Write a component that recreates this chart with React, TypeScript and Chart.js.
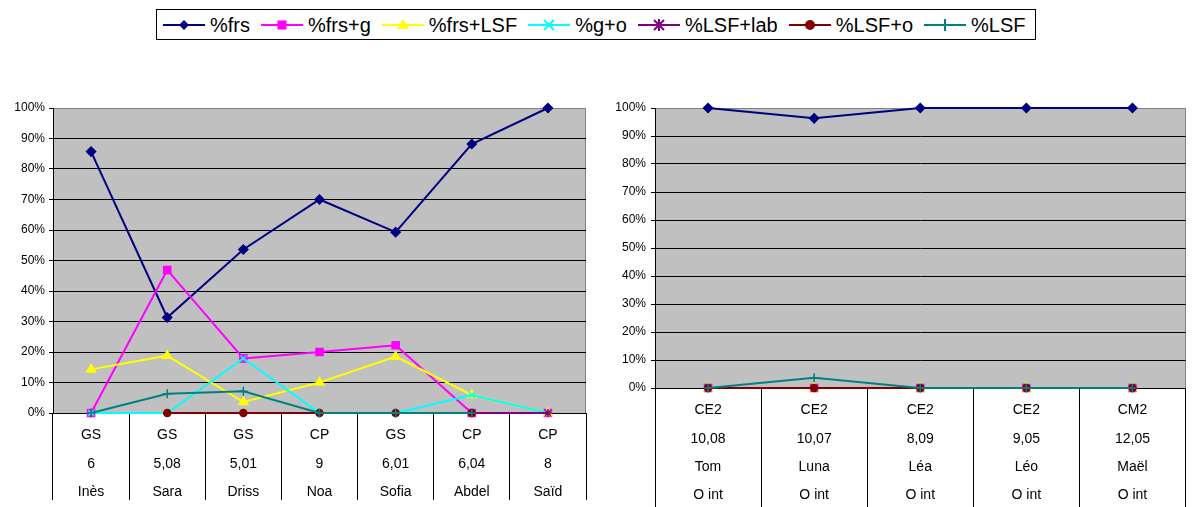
import React, { useEffect, useRef } from 'react';
import { Chart, registerables } from 'chart.js';

Chart.register(...registerables);

const FONT = '"Liberation Sans", Arial, Helvetica, sans-serif';

// Series definitions
const seriesNames = ['%frs', '%frs+g', '%frs+LSF', '%g+o', '%LSF+lab', '%LSF+o', '%LSF'];
const seriesColors = ['#000080', '#FF00FF', '#FFFF00', '#00FFFF', '#800080', '#800000', '#008080'];
const seriesMarkers = ['rectRot', 'rect', 'triangle', 'crossRot', 'star', 'circle', 'cross'];
const seriesRadius = [4.5, 5, 5, 4, 4, 3.5, 4.5];

// Left chart categories
const leftLevels = ['GS', 'GS', 'GS', 'CP', 'GS', 'CP', 'CP'];
const leftAges = ['6', '5,08', '5,01', '9', '6,01', '6,04', '8'];
const leftNames = ['Inès', 'Sara', 'Driss', 'Noa', 'Sofia', 'Abdel', 'Saïd'];

// Left chart values (%)
const leftFrs = [85.7, 31.3, 53.6, 70, 59.3, 88.2, 100];
const leftFrsG = [0, 46.9, 17.9, 20, 22.2, 0, 0];
const leftFrsLSF = [14.3, 18.8, 3.6, 10, 18.5, 5.9, 0];
const leftGO = [0, 0, 17.9, 0, 0, 5.9, 0];
const leftLSFLab = [null, null, null, null, null, 0, 0];
const leftLSFO = [null, 0, 0, 0, 0, 0, null];
const leftLSF = [0, 6.3, 7.1, 0, 0, 0, null];

// Right chart categories
const rightLevels = ['CE2', 'CE2', 'CE2', 'CE2', 'CM2'];
const rightAges = ['10,08', '10,07', '8,09', '9,05', '12,05'];
const rightNames = ['Tom', 'Luna', 'Léa', 'Léo', 'Maël'];
const rightGroups = ['O int', 'O int', 'O int', 'O int', 'O int'];

// Right chart values (%)
const rightFrs = [100, 96.3, 100, 100, 100];
const rightFrsG = [0, 0, 0, 0, 0];
const rightFrsLSF = [0, 0, 0, 0, 0];
const rightGO = [0, 0, 0, 0, 0];
const rightLSFLab = [0, 0, 0, 0, 0];
const rightLSFO = [0, 0, 0, 0, 0];
const rightLSF = [0, 3.7, 0, 0, 0];

// Y axis ticks
const yTickStep = 10;
const yMax = 100;

const plotBg = {
  id: 'plotBg',
  beforeDraw(chart: any) {
    const { ctx, chartArea: a } = chart;
    ctx.save();
    ctx.fillStyle = '#C0C0C0';
    ctx.fillRect(a.left, a.top, a.right - a.left, a.bottom - a.top);
    ctx.strokeStyle = '#808080';
    ctx.lineWidth = 1;
    ctx.beginPath();
    const x = Math.round(a.right) - 0.5;
    ctx.moveTo(x, a.top);
    ctx.lineTo(x, a.bottom);
    ctx.stroke();
    ctx.restore();
  },
};

type Cfg = {
  labels: string[][];
  values: (number | null)[][];
  width: number;
  height: number;
  padRight: number;
  yWidth: number;
  xHeight: number;
  tickLen: number;
  labelPad: number;
  lineH: number;
  yPad: number;
};

function LineChart(props: Cfg) {
  const ref = useRef<HTMLCanvasElement | null>(null);
  useEffect(() => {
    if (!ref.current) return;
    const n = seriesNames.length;
    const chart = new Chart(ref.current, {
      type: 'line',
      data: {
        labels: props.labels,
        datasets: seriesNames.map((name, i) => ({
          label: name,
          data: props.values[i],
          borderColor: seriesColors[i],
          backgroundColor: seriesColors[i],
          borderWidth: 2,
          pointStyle: seriesMarkers[i] as any,
          pointRadius: seriesRadius[i],
          pointBorderWidth: 1.5,
          pointBorderColor: seriesColors[i],
          pointBackgroundColor: seriesColors[i],
          tension: 0,
          spanGaps: false,
          clip: false as any,
          order: n - 1 - i,
        })),
      },
      options: {
        responsive: false,
        animation: false,
        devicePixelRatio: 1,
        layout: { padding: { left: 0, top: 63, right: props.padRight, bottom: 0 } },
        plugins: { legend: { display: false }, tooltip: { enabled: false } },
        scales: {
          x: {
            type: 'category',
            offset: true,
            grid: {
              offset: true,
              drawOnChartArea: false,
              drawTicks: true,
              tickLength: props.tickLen,
              color: '#000',
              tickColor: '#000',
              lineWidth: 1,
            },
            border: { display: true, color: '#000', width: 1 },
            ticks: {
              autoSkip: false,
              maxRotation: 0,
              minRotation: 0,
              padding: props.labelPad,
              color: '#000',
              font: { family: FONT, size: 14, lineHeight: props.lineH + 'px' },
            },
            afterFit: (s: any) => {
              s.height = props.xHeight;
            },
          },
          y: {
            min: 0,
            max: yMax,
            ticks: {
              stepSize: yTickStep,
              padding: props.yPad,
              color: '#000',
              font: { family: FONT, size: 12 },
              callback: (v: any) => v + '%',
            },
            grid: {
              color: (c: any) => (c.tick && c.tick.value === yMax ? '#808080' : '#000'),
              tickColor: '#000',
              tickLength: 4,
              lineWidth: 1,
            },
            border: { color: '#000', width: 1 },
            afterFit: (s: any) => {
              s.width = props.yWidth;
            },
          },
        },
      } as any,
      plugins: [plotBg],
    });
    return () => chart.destroy();
  }, []);
  return <canvas ref={ref} width={props.width} height={props.height} style={{ display: 'block', width: props.width, height: props.height }} />;
}

function Marker({ type, color }: { type: string; color: string }) {
  const cx = 21;
  const cy = 8;
  let shape: any = null;
  if (type === 'rectRot') shape = <polygon points={`${cx},${cy - 5} ${cx + 5},${cy} ${cx},${cy + 5} ${cx - 5},${cy}`} fill={color} />;
  else if (type === 'rect') shape = <rect x={cx - 4.5} y={cy - 4.5} width={9} height={9} fill={color} />;
  else if (type === 'triangle') shape = <polygon points={`${cx},${cy - 6} ${cx + 6},${cy + 4} ${cx - 6},${cy + 4}`} fill={color} />;
  else if (type === 'crossRot')
    shape = <path d={`M${cx - 5} ${cy - 5}L${cx + 5} ${cy + 5}M${cx + 5} ${cy - 5}L${cx - 5} ${cy + 5}`} stroke={color} strokeWidth={2} />;
  else if (type === 'star')
    shape = (
      <path
        d={`M${cx - 5} ${cy - 5}L${cx + 5} ${cy + 5}M${cx + 5} ${cy - 5}L${cx - 5} ${cy + 5}M${cx} ${cy - 6}L${cx} ${cy + 6}`}
        stroke={color}
        strokeWidth={2}
      />
    );
  else if (type === 'circle') shape = <circle cx={cx} cy={cy} r={5} fill={color} />;
  else if (type === 'cross') shape = <path d={`M${cx - 6} ${cy}L${cx + 6} ${cy}M${cx} ${cy - 6}L${cx} ${cy + 6}`} stroke={color} strokeWidth={2} />;
  return (
    <svg width={42} height={16} style={{ display: 'block', marginRight: 5 }}>
      <line x1={0} y1={cy} x2={42} y2={cy} stroke={color} strokeWidth={2} />
      {shape}
    </svg>
  );
}

export default function App() {
  const leftLabels = leftLevels.map((l, i) => [l, leftAges[i], leftNames[i]]);
  const rightLabels = rightLevels.map((l, i) => [l, rightAges[i], rightNames[i], rightGroups[i]]);
  const leftValues = [leftFrs, leftFrsG, leftFrsLSF, leftGO, leftLSFLab, leftLSFO, leftLSF];
  const rightValues = [rightFrs, rightFrsG, rightFrsLSF, rightGO, rightLSFLab, rightLSFO, rightLSF];

  return (
    <div style={{ position: 'absolute', left: 0, top: 0, width: 1192, height: 507, background: '#fff', overflow: 'hidden' }}>
      <div
        style={{
          position: 'absolute',
          left: 156,
          top: 9,
          width: 880,
          height: 31,
          boxSizing: 'border-box',
          border: '1px solid #000',
          display: 'flex',
          alignItems: 'center',
          paddingLeft: 6,
          fontFamily: FONT,
          fontSize: 20,
          color: '#000',
          whiteSpace: 'nowrap',
        }}
      >
        {seriesNames.map((name, i) => (
          <div key={name} style={{ display: 'flex', alignItems: 'center', marginRight: 11 }}>
            <Marker type={seriesMarkers[i]} color={seriesColors[i]} />
            <span style={{ lineHeight: '20px' }}>{name}</span>
          </div>
        ))}
      </div>
      <div style={{ position: 'absolute', left: 0, top: 45 }}>
        <LineChart
          labels={leftLabels}
          values={leftValues}
          width={596}
          height={462}
          padRight={10}
          yWidth={53}
          xHeight={94}
          tickLen={87}
          labelPad={-78.6}
          lineH={28.3}
          yPad={4}
        />
      </div>
      <div style={{ position: 'absolute', left: 596, top: 45 }}>
        <LineChart
          labels={rightLabels}
          values={rightValues}
          width={596}
          height={462}
          padRight={1}
          yWidth={59}
          xHeight={119}
          tickLen={119}
          labelPad={-110.5}
          lineH={28.2}
          yPad={5}
        />
      </div>
    </div>
  );
}
